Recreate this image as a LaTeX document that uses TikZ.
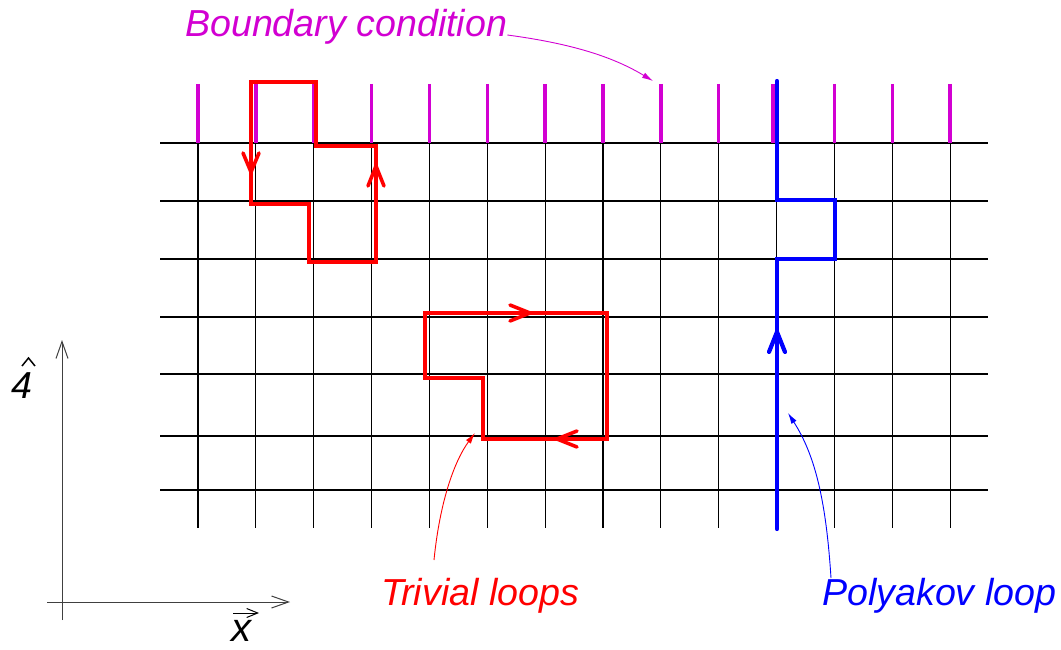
\documentclass[tikz,border=0pt]{standalone}
\usepackage{fontspec}
\setmainfont{Liberation Sans}
\usetikzlibrary{arrows.meta}
\definecolor{bcmag}{RGB}{210,0,210}
\begin{document}
\begin{tikzpicture}[x=1pt,y=-1pt,
  gridline/.style={line width=1.1pt, black},
  bctick/.style={line width=3.4pt, bcmag},
  redloop/.style={line width=3.6pt, red, line join=miter},
  blueloop/.style={line width=4.2pt, blue, line cap=round},
  barb/.style={line cap=round, line join=round},
  lbl/.style={font=\fontsize{37.6}{44}\selectfont\itshape, inner sep=0pt, anchor=base west},
  note/.style={line width=0.9pt, -{Latex[length=11pt,width=6pt]}},
  axisline/.style={line width=1pt, black!75, -{Straight Barb[length=17pt,width=12pt]}}
]
\useasboundingbox (0,0) rectangle (1061,650);
\fill[white] (0,0) rectangle (1061,650);
% grid
\foreach \k in {0,...,13} \draw[gridline] ({198+57.85*\k},143) -- ({198+57.85*\k},528);
\foreach \y in {143,201,259,317,374,436,490} \draw[gridline] (160,\y) -- (988,\y);
% boundary ticks
\foreach \k in {0,...,9,11,12,13} \draw[bctick] ({198+57.85*\k},84) -- ({198+57.85*\k},143);
\draw[bctick] (773,84) -- (773,143);
% trivial loops
\draw[redloop] (251,82) -- (316,82) -- (316,146) -- (376,146) -- (376,262) -- (309,262) -- (309,204) -- (251,204) -- cycle;
\draw[redloop,barb] (243,153) -- (251,172) -- (259,153);
\draw[redloop,barb] (368,186) -- (376,166) -- (384,186);
\draw[redloop] (425,313) -- (607,313) -- (607,439) -- (483,439) -- (483,378) -- (425,378) -- cycle;
\draw[redloop,barb] (510,305) -- (530,313) -- (510,321);
\draw[redloop,barb] (577,431) -- (557,439) -- (577,447);
% Polyakov loop
\draw[blueloop] (777,81) -- (777,200) -- (835,200) -- (835,259) -- (777,259) -- (777,529);
\draw[blueloop,barb] (769,352) -- (777,332) -- (785,352);
% labels
\node[lbl, text=bcmag] (bc) at (185,37) {Boundary condition};
\node[lbl, text=red] (tl) at (381,605) {Trivial loops};
\node[lbl, text=blue] (pl) at (822,605) {Polyakov loop};
% annotation arrows
\coordinate (bctip) at (653,81);
\draw[note, bcmag] ([yshift=2pt]bc.base east) .. controls (575,44) and (615,58) .. (bctip);
\coordinate (tltail) at (434,560);
\coordinate (tltip) at (475,433);
\draw[note, red] (tltail) .. controls (440,500) and (455,460) .. (tltip);
\coordinate (pltail) at (831,578);
\coordinate (pltip) at (788,413);
\draw[note, blue] (pltail) .. controls (826,500) and (815,455) .. (pltip);
% axes
\coordinate (ybot) at (62,620);
\coordinate (ytip) at (62,340);
\coordinate (xleft) at (47,602);
\coordinate (xtip) at (290,602);
\draw[axisline] (ybot) -- (ytip);
\draw[axisline] (xleft) -- (xtip);
\node[lbl] (four) at (11,398) {4};
\draw[line width=1.5pt, line join=miter] (22,366) -- (28.5,358) -- (35,366);
\node[lbl, font=\fontsize{40}{44}\selectfont\itshape] (xl) at (231,641) {x};
\coordinate (vecl) at (233,613);
\coordinate (vecr) at (259,613);
\draw[line width=1pt, -{Straight Barb[length=11pt,width=9pt]}] (vecl) -- (vecr);
\end{tikzpicture}
\end{document}
